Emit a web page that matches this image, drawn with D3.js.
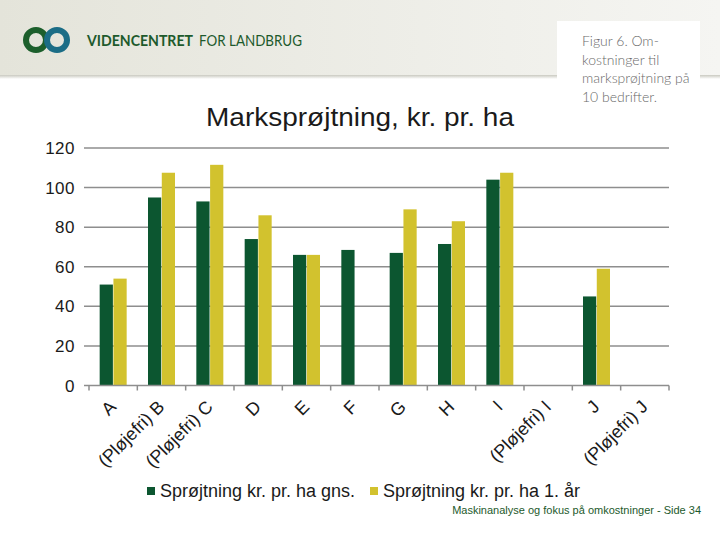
<!DOCTYPE html>
<html>
<head>
<meta charset="utf-8">
<script src="https://cdn.jsdelivr.net/npm/d3@7"></script>
<style>
  body { margin: 0; background: #ffffff; }
  svg { display: block; }
</style>
</head>
<body>
<svg id="chart" width="720" height="540"></svg>
<script>
// categories on the x axis
const categories = ["A", "(Pløjefri) B", "(Pløjefri) C", "D", "E", "F", "G", "H", "I", "(Pløjefri) I", "J", "(Pløjefri) J"];
// series names (legend)
const seriesNames = ["Sprøjtning kr. pr. ha gns.", "Sprøjtning kr. pr. ha 1. år"];
// values, null = no bar
const avgValues = [51, 95, 93, 74, 66, 68.5, 67, 71.5, 104, null, 45, null];
const firstYearValues = [54, 107.5, 111.5, 86, 66, null, 89, 83, 107.5, null, 59, null];
// y axis ticks
const yTicks = [0, 20, 40, 60, 80, 100, 120];

const darkGreen = "#0c5630";
const yellow = "#d2c22e";
const gridGrey = "#8e8e8e";

let svg = d3.select("#chart");

// header band with gradient
let defs = svg.append("defs");
let grad = defs.append("linearGradient").attr("id", "hdr").attr("x1", 0).attr("x2", 1);
grad.append("stop").attr("offset", 0).attr("stop-color", "#e4e4da");
grad.append("stop").attr("offset", 1).attr("stop-color", "#f5f5f2");
let shade = defs.append("linearGradient").attr("id", "shade").attr("x1", 0).attr("x2", 0).attr("y1", 0).attr("y2", 1);
shade.append("stop").attr("offset", 0).attr("stop-color", "#c9c9c0");
shade.append("stop").attr("offset", 1).attr("stop-color", "#ffffff");

svg.append("rect").attr("x", 0).attr("y", 0).attr("width", 720).attr("height", 75).attr("fill", "url(#hdr)");
svg.append("rect").attr("x", 0).attr("y", 75).attr("width", 720).attr("height", 4).attr("fill", "url(#shade)");

// logo
svg.append("circle").attr("cx", 36).attr("cy", 40).attr("r", 10).attr("fill", "none")
    .attr("stroke", "#1c5f2c").attr("stroke-width", 6);
svg.append("circle").attr("cx", 57).attr("cy", 40).attr("r", 10).attr("fill", "none")
    .attr("stroke", "#1b6d86").attr("stroke-width", 6);

// brand name, two parts
svg.append("text").attr("x", 87).attr("y", 46)
    .attr("font-family", "Lato, 'Open Sans', sans-serif").attr("font-size", 16).attr("font-weight", "bold")
    .attr("fill", "#1d5a2c").attr("textLength", 106).attr("lengthAdjust", "spacingAndGlyphs")
    .text("VIDENCENTRET");
svg.append("text").attr("x", 199).attr("y", 46)
    .attr("font-family", "Lato, 'Open Sans', sans-serif").attr("font-size", 16)
    .attr("fill", "#1d5a2c").attr("textLength", 103).attr("lengthAdjust", "spacingAndGlyphs")
    .text("FOR LANDBRUG");

// figure note box
svg.append("rect").attr("x", 557).attr("y", 21).attr("width", 143).attr("height", 87).attr("fill", "#ffffff");
const noteLines = ["Figur 6. Om-", "kostninger til", "marksprøjtning på", "10 bedrifter."];
svg.append("g").selectAll("text")
    .data(noteLines)
    .enter().append("text")
    .attr("x", 582)
    .attr("y", function (d, i) { return 46 + i * 18.7; })
    .attr("font-family", "Lato, sans-serif")
    .attr("font-weight", 300)
    .attr("font-size", 14)
    .attr("fill", "#6a6a6a")
    .text(function (d) { return d; });

// title
svg.append("text").attr("x", 360).attr("y", 126).attr("text-anchor", "middle")
    .attr("font-family", "'Liberation Sans', Arial, sans-serif").attr("font-size", 25)
    .attr("fill", "#1a1a1a").attr("textLength", 308).attr("lengthAdjust", "spacingAndGlyphs")
    .text("Marksprøjtning, kr. pr. ha");

// scales
let x = d3.scaleBand().domain(categories).range([89, 669]).padding(0);
let inner = d3.scaleBand().domain([0, 1]).range([0, 27]).paddingInner(0.04);
let y = d3.scaleLinear().domain([0, 120]).range([385.5, 148]);

// gridlines
svg.append("g").selectAll("line")
    .data(yTicks.filter(function (t) { return t > 0; }))
    .enter().append("line")
    .attr("x1", 84).attr("x2", 669)
    .attr("y1", function (d) { return y(d); })
    .attr("y2", function (d) { return y(d); })
    .attr("stroke", gridGrey).attr("stroke-width", 1.5);

// y labels
svg.append("g").selectAll("text")
    .data(yTicks)
    .enter().append("text")
    .attr("x", 75)
    .attr("y", function (d) { return y(d); })
    .attr("dy", "0.36em")
    .attr("text-anchor", "end")
    .attr("font-family", "'Liberation Sans', Arial, sans-serif")
    .attr("font-size", 17)
    .attr("letter-spacing", 0.5)
    .attr("fill", "#1a1a1a")
    .text(function (d) { return d; });

// bars
let series = [avgValues, firstYearValues];
let colors = [darkGreen, yellow];
series.forEach(function (vals, s) {
    let data = categories.map(function (c, i) { return {cat: c, v: vals[i]}; })
        .filter(function (d) { return d.v !== null; });
    svg.append("g").selectAll("rect")
        .data(data)
        .enter().append("rect")
        .attr("x", function (d) { return x(d.cat) + (x.bandwidth() - 27) / 2 + inner(s); })
        .attr("width", inner.bandwidth())
        .attr("y", function (d) { return y(d.v); })
        .attr("height", function (d) { return y(0) - y(d.v); })
        .attr("fill", colors[s]);
});

// x axis
let xAxis = d3.axisBottom(x).tickSize(0).tickFormat("");
let ax = svg.append("g").attr("transform", "translate(0," + y(0) + ")").call(xAxis);
ax.select(".domain").attr("stroke", gridGrey).attr("stroke-width", 1.5).attr("d", "M84,0H669");
// category boundary ticks
svg.append("g").selectAll("line")
    .data(categories.concat(["end"]))
    .enter().append("line")
    .attr("x1", function (d, i) { return 89 + i * x.step(); })
    .attr("x2", function (d, i) { return 89 + i * x.step(); })
    .attr("y1", y(0)).attr("y2", y(0) + 5)
    .attr("stroke", gridGrey).attr("stroke-width", 1.5);

// rotated category labels
svg.append("g").selectAll("text")
    .data(categories)
    .enter().append("text")
    .attr("transform", function (d) {
        return "translate(" + (x(d) + x.bandwidth() / 2 + 4) + "," + 408 + ") rotate(-45)";
    })
    .attr("text-anchor", "end")
    .attr("font-family", "'Liberation Sans', Arial, sans-serif")
    .attr("font-size", 18)
    .attr("fill", "#1a1a1a")
    .text(function (d) { return d; });

// legend
let legend = svg.append("g");
const legendX = [147, 370];
seriesNames.forEach(function (name, i) {
    legend.append("rect").attr("x", legendX[i]).attr("y", 487).attr("width", 8).attr("height", 8)
        .attr("fill", colors[i]);
    legend.append("text").attr("x", legendX[i] + 13).attr("y", 497)
        .attr("font-family", "'Liberation Sans', Arial, sans-serif").attr("font-size", 18)
        .attr("fill", "#1a1a1a").text(name);
});

// footer
svg.append("text").attr("x", 701).attr("y", 514).attr("text-anchor", "end")
    .attr("font-family", "'Liberation Sans', Arial, sans-serif").attr("font-size", 11)
    .attr("fill", "#1d5a2c").text("Maskinanalyse og fokus på omkostninger - Side 34");
</script>
</body>
</html>
